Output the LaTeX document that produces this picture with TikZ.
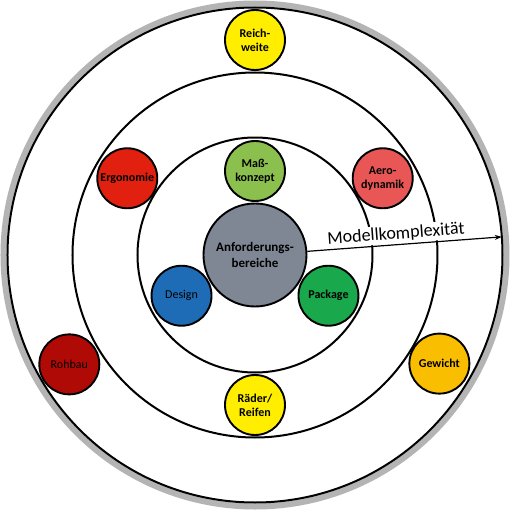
\documentclass[tikz,border=0pt]{standalone}
\usepackage{fontspec}
\setmainfont{Carlito}
\usetikzlibrary{arrows.meta}
\definecolor{ringgray}{HTML}{B4B4B4}
\definecolor{cgray}{HTML}{7F8794}
\definecolor{cmass}{HTML}{8CC04E}
\definecolor{cdesign}{HTML}{1F6CB6}
\definecolor{cpack}{HTML}{19A84B}
\definecolor{cergo}{HTML}{E1200F}
\definecolor{caero}{HTML}{E85656}
\definecolor{cyellow}{HTML}{FFEE00}
\definecolor{crohbau}{HTML}{B00A06}
\definecolor{cgewicht}{HTML}{F9BE00}
\tikzset{
  ring/.style={draw=black, line width=2pt},
  bubble/.style={circle, draw=black, line width=1.9pt, minimum size=60pt, inner sep=0pt, align=center,
    font=\bfseries\fontsize{12}{14}\selectfont},
  plainbubble/.style={bubble, font=\fontsize{12}{14}\selectfont},
  hub/.style={circle, draw=black, line width=1.9pt, minimum size=103pt, inner sep=0pt, align=center,
    fill=cgray, font=\bfseries\fontsize{13}{16}\selectfont}
}
\begin{document}
\begin{tikzpicture}[x=1pt,y=1pt]
\useasboundingbox (-255,-257) rectangle (255,255);
\fill[white] (-255,-257) rectangle (255,255);
% rings
\draw[ringgray, line width=6pt] (0,0) circle (251.5);
\draw[ring] (0,0) circle (247.5);
\draw[ring] (0,0) circle (182.5);
\draw[ring] (0,0) circle (117.5);
% hub
\node[hub] (hub) at (0,0) {Anforderungs-\\bereiche};
% inner ring
\node[bubble, fill=cmass] (mass) at (90:84) {Maß-\\konzept};
\node[plainbubble, fill=cdesign] (design) at (209:84) {Design};
\node[bubble, fill=cpack] (pack) at (331:84) {Package};
% middle ring
\node[bubble, fill=cergo] (ergo) at (149:149) {Ergonomie};
\node[bubble, fill=caero] (aero) at (31:149) {Aero-\\dynamik};
\node[bubble, fill=cyellow] (raeder) at (270:150) {Räder/\\Reifen};
% outer ring
\node[bubble, fill=cyellow] (reich) at (90:215) {Reich-\\weite};
\node[plainbubble, fill=crohbau] (rohbau) at (210.5:215.5) {Rohbau};
\node[bubble, fill=cgewicht] (gewicht) at (329.5:214) {Gewicht};
% arrow
\coordinate (tip) at (4.2:247.5);
\draw[line width=1.2pt, -{Stealth[length=7pt,width=5pt]}] (hub.4.5) -- (tip)
  node[pos=0.46, sloped, above=0.7pt, fill=white, inner xsep=0pt, inner ysep=1.5pt,
       font=\fontsize{18}{20}\selectfont] {Modellkomplexität};
\end{tikzpicture}
\end{document}
